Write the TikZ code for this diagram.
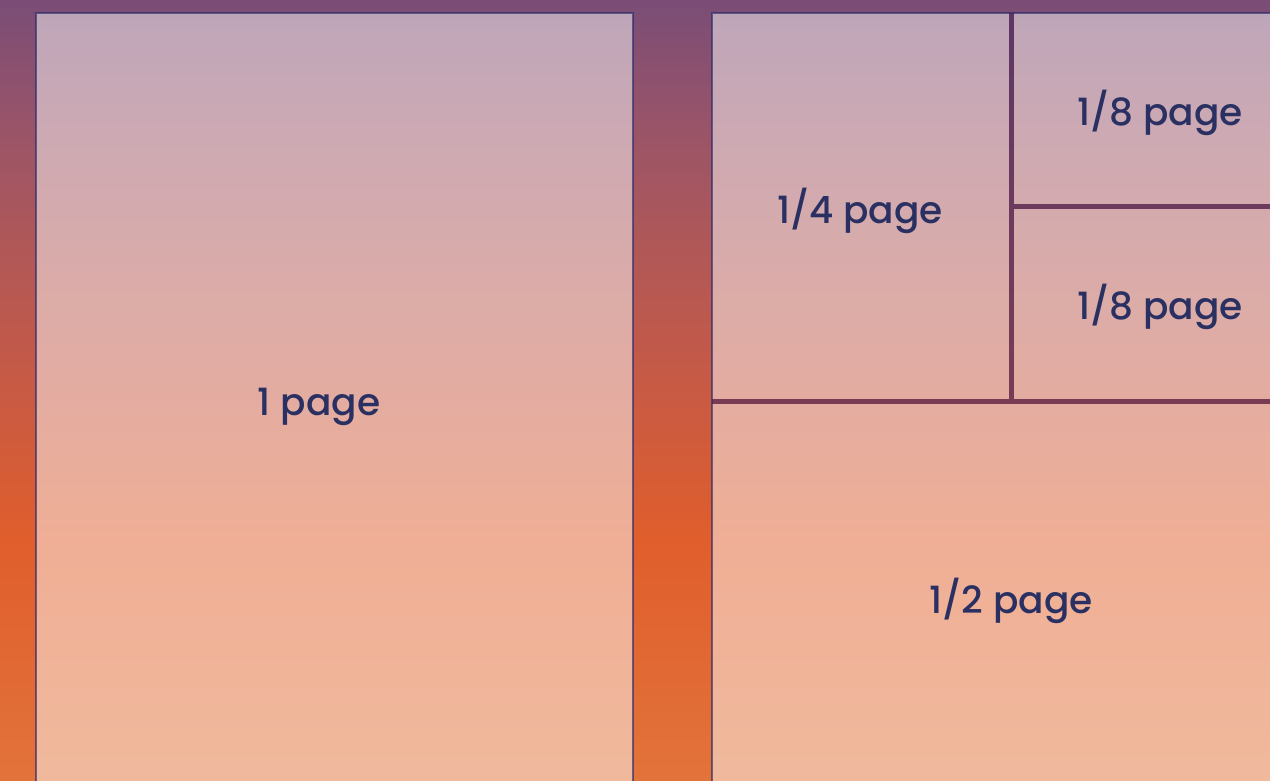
\documentclass[tikz,border=0pt]{standalone}
\usepackage{fontspec}
\setmainfont{Poppins}[UprightFont=* Medium]
\definecolor{bgA}{HTML}{7A4D76}
\definecolor{bgB}{HTML}{9A5468}
\definecolor{bgC}{HTML}{B25856}
\definecolor{bgD}{HTML}{C85A44}
\definecolor{bgE}{HTML}{E05E2C}
\definecolor{bgF}{HTML}{E2733A}
\definecolor{edgecol}{HTML}{2A2A6A}
\definecolor{gapcol}{HTML}{4D2B5E}
\definecolor{textcol}{HTML}{2A3162}
\pgfdeclareverticalshading{bgshade}{100bp}{color(0bp)=(bgF); color(25bp)=(bgF); color(40.43bp)=(bgE); color(50.03bp)=(bgD); color(58.36bp)=(bgC); color(66.68bp)=(bgB); color(75bp)=(bgA); color(100bp)=(bgA)}
\tikzset{
  tile/.style={fill=white, fill opacity=0.5},
  gap/.style={fill=gapcol, fill opacity=0.65},
  paneledge/.style={draw=edgecol, draw opacity=0.65, line width=2.5bp},
  label/.style={text=textcol, font=\fontsize{37.5bp}{42bp}\selectfont, inner sep=0pt}
}
\begin{document}
\begin{tikzpicture}[x=1bp,y=-1bp]
\useasboundingbox (0,0) rectangle (1270,781);
\begin{scope}
\clip (0,0) rectangle (1270,781);
\shade[shading=bgshade] (0,0) rectangle (1270,781);
% left panel
\path[tile] (36,13) rectangle (633,800);
\draw[paneledge] (36,13) rectangle (633,800);
% right panel tiles
\path[tile] (712,13) rectangle (1008.5,398.5);
\path[tile] (1013.5,13) rectangle (1310,203.5);
\path[tile] (1013.5,208.5) rectangle (1310,398.5);
\path[tile] (712,403.5) rectangle (1310,800);
% dividers
\path[gap] (1008.5,13) rectangle (1013.5,398.5);
\path[gap] (1013.5,203.5) rectangle (1310,208.5);
\path[gap] (712,398.5) rectangle (1310,403.5);
\draw[paneledge] (712,13) rectangle (1310,800);
\end{scope}
\node[label] (full) at (319,407) {1 page};
\node[label] (quarter) at (860,211) {1/4 page};
\node[label] (eighthA) at (1160,113) {1/8 page};
\node[label] (eighthB) at (1160,307) {1/8 page};
\node[label] (half) at (1011,601) {1/2 page};
\end{tikzpicture}
\end{document}
